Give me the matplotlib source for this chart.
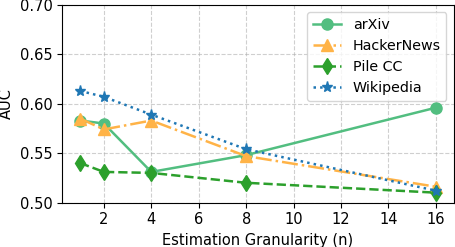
import matplotlib
matplotlib.use('Agg')
import matplotlib.pyplot as plt

granularity = [1, 2, 4, 8, 16]
arxiv = [0.583, 0.580, 0.531, 0.548, 0.596]
hackernews = [0.585, 0.574, 0.583, 0.547, 0.516]
pile_cc = [0.540, 0.531, 0.530, 0.520, 0.510]
wikipedia = [0.613, 0.607, 0.589, 0.554, 0.512]

fig, ax = plt.subplots(figsize=(4.55, 2.47), dpi=100)
ax.plot(granularity, arxiv, marker='o', linestyle='-', color='#52be80', markersize=8, linewidth=1.8, label='arXiv')
ax.plot(granularity, hackernews, marker='^', linestyle='-.', color='#ffb347', markersize=8, linewidth=1.8, label='HackerNews')
ax.plot(granularity, pile_cc, marker='d', linestyle='--', color='#2ca02c', markersize=8, linewidth=1.8, label='Pile CC')
ax.plot(granularity, wikipedia, marker='*', linestyle=':', color='#1f77b4', markersize=8, linewidth=1.8, label='Wikipedia')

ax.set_ylim(0.5, 0.7)
ax.set_xticks([2, 4, 6, 8, 10, 12, 14, 16])
ax.tick_params(labelsize=10.5)
ax.set_xlabel('Estimation Granularity (n)', fontsize=10.5)
ax.set_ylabel('AUC', fontsize=10.5)
ax.grid(True, linestyle='--', alpha=0.6)
ax.legend(loc='upper right', fontsize=10.3)
fig.subplots_adjust(left=0.137, right=0.997, top=0.98, bottom=0.18)
fig.savefig('out.png', dpi=100)
